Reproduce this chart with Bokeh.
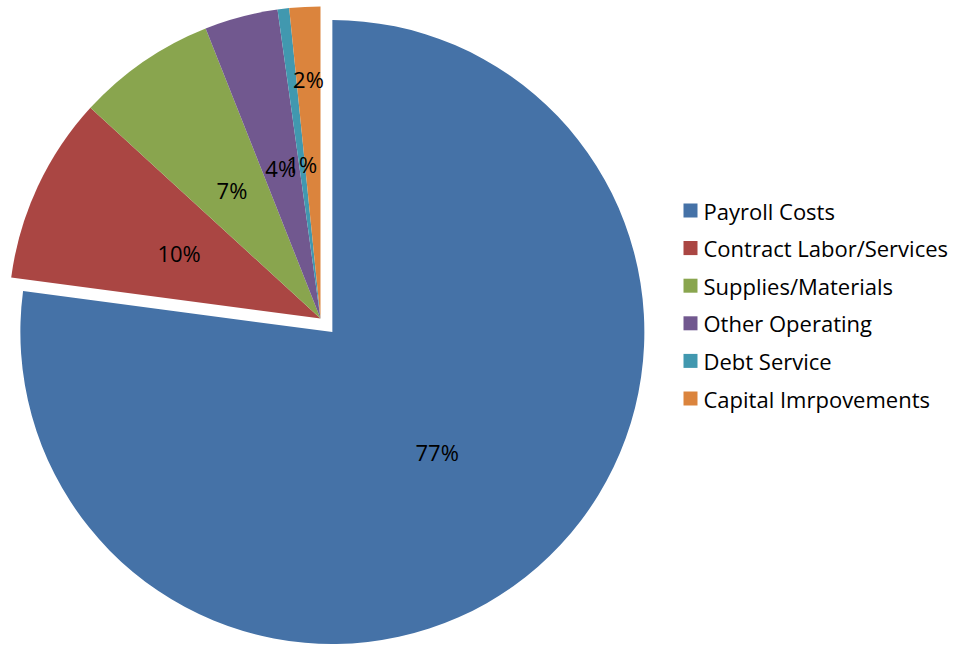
import math
from bokeh.plotting import figure
from bokeh.models import ColumnDataSource
from bokeh.core.properties import value
from bokeh.embed import file_html
from bokeh.resources import INLINE

# ---- data ----
categories = ["Payroll Costs", "Contract Labor/Services", "Supplies/Materials",
              "Other Operating", "Debt Service", "Capital Imrpovements"]
shares = [77.1, 9.7, 7.2, 3.8, 0.6, 1.6]
pct_labels = ["77%", "10%", "7%", "4%", "1%", "2%"]

# ---- style / layout ----
colors = ["#4572A7", "#AA4643", "#89A54E", "#71588F", "#4198AF", "#DB843D"]
W, H = 954, 645
CX, CY = 320, H - 318          # pie centre (data units = pixels, y up)
R = 312                        # radius in pixels
explode = [18, 0, 0, 0, 0, 0]  # pixel offset of each slice
label_frac = [0.51, 0.5, 0.5, 0.5, 0.5, 0.77]
FONT = "Open Sans"
FSIZE = "22px"

total = sum(shares)
starts, ends, xs, ys, lx, ly = [], [], [], [], [], []
cum = 0.0
for i, s in enumerate(shares):
    a0 = 90.0 - 360.0 * (cum + s) / total
    a1 = 90.0 - 360.0 * cum / total
    mid = math.radians((a0 + a1) / 2)
    cx = CX + explode[i] * math.cos(mid)
    cy = CY + explode[i] * math.sin(mid)
    starts.append(math.radians(a0))
    ends.append(math.radians(a1))
    xs.append(cx)
    ys.append(cy)
    lx.append(cx + label_frac[i] * R * math.cos(mid))
    ly.append(cy + label_frac[i] * R * math.sin(mid))
    cum += s

src = ColumnDataSource(dict(x=xs, y=ys, start=starts, end=ends, color=colors,
                            lx=lx, ly=ly, label=pct_labels, cat=categories))

p = figure(width=W, height=H, x_range=(0, W), y_range=(0, H),
           output_backend="svg", toolbar_location=None,
           x_axis_type=None, y_axis_type=None, min_border=0)
p.outline_line_color = None
p.grid.visible = False
p.background_fill_color = "white"

p.wedge(x="x", y="y", radius=R, radius_units="screen",
        start_angle="start", end_angle="end", direction="anticlock",
        fill_color="color", line_color=None, source=src)

p.text(x="lx", y="ly", text="label", source=src,
       text_font=value(FONT), text_font_size=FSIZE, text_color="black",
       text_align="center", text_baseline="middle")

# ---- legend ----
LEG_X = 690
LEG_TOP = H - 210
LEG_STEP = 37.6
leg_y = [LEG_TOP - i * LEG_STEP for i in range(len(categories))]
lsrc = ColumnDataSource(dict(x=[LEG_X] * len(categories), tx=[LEG_X + 13] * len(categories),
                             y=leg_y, color=colors, cat=categories))
p.rect(x="x", y="y", width=14, height=14, width_units="screen", height_units="screen",
       fill_color="color", line_color=None, source=lsrc)
p.text(x="tx", y="y", text="cat", source=lsrc,
       text_font=value(FONT), text_font_size=FSIZE, text_color="black",
       text_align="left", text_baseline="middle")

open("out.html", "w").write(file_html(p, INLINE))
